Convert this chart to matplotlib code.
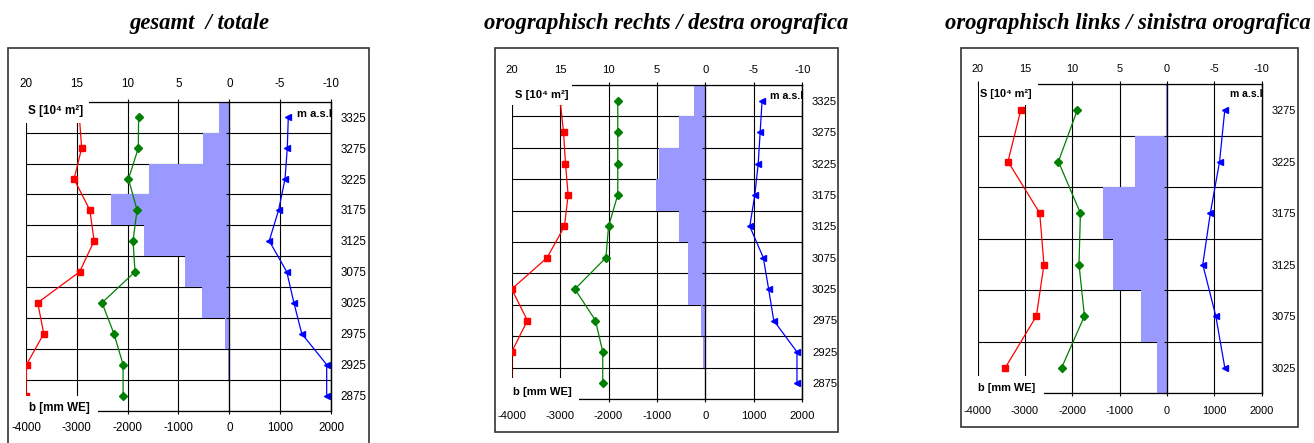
import numpy as np
import matplotlib
matplotlib.use('Agg')
import matplotlib.pyplot as plt
from matplotlib.patches import Rectangle

plt.rcParams['font.family'] = ['Liberation Sans', 'DejaVu Sans']
plt.rcParams['axes.unicode_minus'] = False

# elevation bands (m a.s.l.)
elev_all = [3325, 3275, 3225, 3175, 3125, 3075, 3025, 2975, 2925, 2875]
elev_links = [3275, 3225, 3175, 3125, 3075, 3025]

# gesamt / totale
S_total = [1.0, 2.6, 7.9, 11.6, 8.4, 4.4, 2.7, 0.4, 0.1, 0.0]
red_total = [-2950, -2905, -3055, -2745, -2660, -2945, -3770, -3650, -3990, -4000]
green_total = [-1785, -1790, -1985, -1815, -1895, -1855, -2505, -2270, -2090, -2090]
blue_total = [1160, 1140, 1095, 970, 785, 1130, 1270, 1425, 1915, 1915]

# orographisch rechts / destra orografica
S_right = [1.2, 2.7, 4.8, 5.1, 2.7, 1.8, 1.8, 0.5, 0.3, 0.0]
red_right = [-3000, -2930, -2890, -2835, -2910, -3270, -4000, -3675, -4000, -4000]
green_right = [-1810, -1810, -1810, -1810, -2000, -2055, -2695, -2270, -2120, -2120]
blue_right = [1170, 1130, 1090, 1020, 915, 1195, 1305, 1410, 1890, 1890]

# orographisch links / sinistra orografica
S_left = [0.1, 3.4, 6.8, 5.7, 2.7, 1.1]
red_left = [-3090, -3360, -2690, -2600, -2760, -3415]
green_left = [-1895, -2295, -1830, -1860, -1745, -2225]
blue_left = [1220, 1110, 915, 755, 1030, 1220]

s_ticks = [20, 15, 10, 5, 0, -5, -10]
b_ticks = [-4000, -3000, -2000, -1000, 0, 1000, 2000]

W, H = 1314, 443
fig = plt.figure(figsize=(W / 100, H / 100), dpi=100)


def panel(title, tx, frame, axbox, elev, S, red, green, blue, fs, pads, boxes):
    # frame around the panel
    fx0, fy0, fx1, fy1 = frame
    fig.patches.append(Rectangle((fx0 / W, 1 - fy1 / H), (fx1 - fx0) / W, (fy1 - fy0) / H,
                                 transform=fig.transFigure, fill=False,
                                 edgecolor='#333333', lw=1.2))
    fig.text(tx / W, 1 - 23 / H, title, ha='center', va='center',
             family='Liberation Serif', style='italic', weight='bold', fontsize=16.3)

    x0, y0, x1, y1 = axbox
    ax = fig.add_axes([x0 / W, 1 - y1 / H, (x1 - x0) / W, (y1 - y0) / H])
    top, bot = max(elev) + 25, min(elev) - 25
    ax.set_xlim(20, -10)
    ax.set_ylim(bot, top)
    ax.set_axisbelow(True)
    ax.barh(elev, S, height=50, left=0, color='#9999ff', lw=0)

    axb = ax.twiny()
    axb.set_xlim(-4000, 2000)

    # area axis on top
    ax.set_xticks(s_ticks)
    ax.set_xticklabels([str(v) for v in s_ticks])
    ax.xaxis.tick_top()
    ax.tick_params(axis='x', direction='out', length=2.2, pad=pads[0], labelsize=fs)
    ax.set_yticks(np.arange(bot, top + 1, 50))
    ax.set_yticks(elev, minor=True)
    ax.set_yticklabels([str(e) for e in elev], minor=True)
    ax.tick_params(axis='y', which='major', left=False, right=False,
                   labelleft=False, labelright=False)
    ax.tick_params(axis='y', which='minor', left=False, right=False, labelleft=False,
                   labelright=True, length=0, pad=7, labelsize=fs)
    ax.grid(True, which='major', color='black', lw=0.8)
    ax.spines['left'].set_visible(False)
    for s in ['top', 'bottom', 'right']:
        ax.spines[s].set_linewidth(0.9)

    # balance axis at the bottom
    axb.set_xticks(b_ticks)
    axb.set_xticklabels([str(v) for v in b_ticks])
    axb.xaxis.tick_bottom()
    axb.tick_params(axis='x', direction='out', length=2.2, pad=pads[1], labelsize=fs)
    axb.yaxis.set_visible(True)
    axb.tick_params(axis='y', which='major', left=True, right=False, labelleft=False,
                    labelright=False, direction='out', length=2.2)
    axb.tick_params(axis='y', which='minor', left=False, right=False,
                    labelleft=False, labelright=False)
    axb.spines['left'].set_position(('data', 0))
    axb.spines['left'].set_linewidth(0.9)
    axb.spines['right'].set_linewidth(0.9)
    axb.spines['top'].set_visible(False)
    axb.spines['bottom'].set_visible(False)

    axb.plot(red, elev, color='#ff0000', marker='s', ms=4, lw=0.9)
    axb.plot(green, elev, color='#008000', marker='D', ms=3.6, lw=0.9)
    axb.plot(blue, elev, color='#0000ff', marker='<', ms=5, lw=0.9)

    # white label boxes
    for rx0, rx1, ry0, ry1 in [boxes['S'], boxes['b']]:
        axb.add_patch(Rectangle((rx0, ry0), rx1 - rx0, ry1 - ry0, transform=axb.transAxes,
                                facecolor='white', edgecolor='none', zorder=2.4, clip_on=False))
    st, bt, mt = boxes['St'], boxes['bt'], boxes['mt']
    axb.text(st[0], st[1], 'S [10⁴ m²]', transform=axb.transAxes, ha='left', va='center',
             fontsize=fs, weight='bold', zorder=2.45)
    axb.text(bt[0], bt[1], 'b [mm WE]', transform=axb.transAxes, ha='left', va='center',
             fontsize=fs, weight='bold', zorder=2.45)
    axb.text(1.004, mt, 'm a.s.l', transform=axb.transAxes, ha='right', va='center',
             fontsize=fs * 0.95, weight='bold', zorder=2.45, clip_on=True,
             bbox=dict(facecolor='white', edgecolor='none', pad=0.5))


panel('gesamt  / totale', 199, (8, 48, 369, 460), (26, 101.7, 331, 411),
      elev_all, S_total, red_total, green_total, blue_total, 8.4, (6.5, 6.0),
      {'S': (-0.01, 0.207, 0.931, 1.02), 'b': (-0.01, 0.236, -0.02, 0.048),
       'St': (0.007, 0.971), 'bt': (0.01, 0.011), 'mt': 0.96})

panel('orographisch rechts / destra orografica', 666, (495, 48, 838, 432),
      (511.7, 85, 802.3, 399),
      elev_all, S_right, red_right, green_right, blue_right, 8.1, (5.2, 6.1),
      {'S': (-0.01, 0.206, 0.936, 1.02), 'b': (-0.01, 0.233, -0.02, 0.067),
       'St': (0.011, 0.968), 'bt': (0.006, 0.022), 'mt': 0.966})

panel('orographisch links / sinistra orografica', 1128, (961, 48, 1298, 427),
      (977.7, 84.3, 1261.7, 393.3),
      elev_links, S_left, red_left, green_left, blue_left, 7.9, (5.0, 6.8),
      {'S': (0.004, 0.211, 0.933, 1.02), 'b': (-0.01, 0.234, -0.02, 0.056),
       'St': (0.008, 0.968), 'bt': (0.002, 0.017), 'mt': 0.968})

fig.savefig('out.png', dpi=100)
